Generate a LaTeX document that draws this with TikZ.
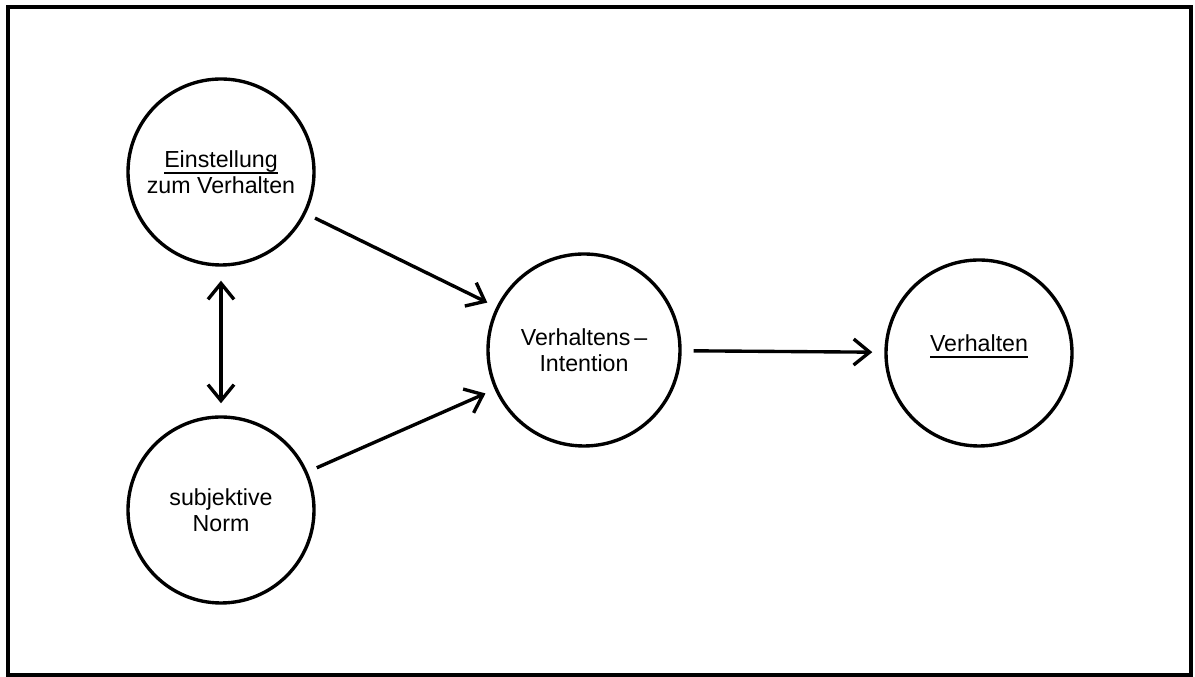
\documentclass[tikz,border=0pt]{standalone}
\usepackage{fontspec}
\setmainfont{Liberation Sans}
\usetikzlibrary{positioning, arrows.meta}

% thick underline as in the scan
\newcommand{\thickul}[1]{\setbox0\hbox{#1}\leavevmode\rlap{\raisebox{-0.17cm}{\rule{\wd0}{1.6pt}}}\box0}

\begin{document}
\begin{tikzpicture}[
    cnode/.style={circle, draw, line width=2.4pt, minimum size=4.65cm, inner sep=0pt,
                  align=center, font=\fontsize{16.5}{18.5}\selectfont},
    arrow/.style={-{Straight Barb[length=4mm, width=6.5mm, line width=2.4pt]}, line width=2.4pt},
    darrow/.style={{Straight Barb[length=4mm, width=6.5mm, line width=2.4pt]}-{Straight Barb[length=4mm, width=6.5mm, line width=2.4pt]}, line width=2.4pt}
]

% Frame
\useasboundingbox (0, 0) rectangle (29.875, 16.925);
\draw[line width=2.4pt] (0.2, 0.05) rectangle (29.775, 16.75);

% Nodes
\node[cnode] (einst) at (5.525, 12.625) {\thickul{Einstellung}\\zum Verhalten};
\node[cnode] (norm) at (5.525, 4.175) {subjektive\\Norm};
\node[cnode, minimum size=4.8cm] (intent) at (14.6, 8.175) {Verhaltens\,--\\Intention};
\node[cnode] (verh) at (24.475, 8.1) {\thickul{Verhalten}\\[-0.15cm]};

% Connections
\draw[darrow, shorten <=0.35cm, shorten >=0.3cm] (einst) -- (norm);
\draw[arrow, shorten <=0.25cm, shorten >=0.25cm] (einst) -- (intent);
\draw[arrow, shorten <=0.25cm, shorten >=0.25cm] (norm) -- (intent);
\draw[arrow, shorten <=0.3cm, shorten >=0.3cm] (intent) -- (verh);

\end{tikzpicture}
\end{document}
